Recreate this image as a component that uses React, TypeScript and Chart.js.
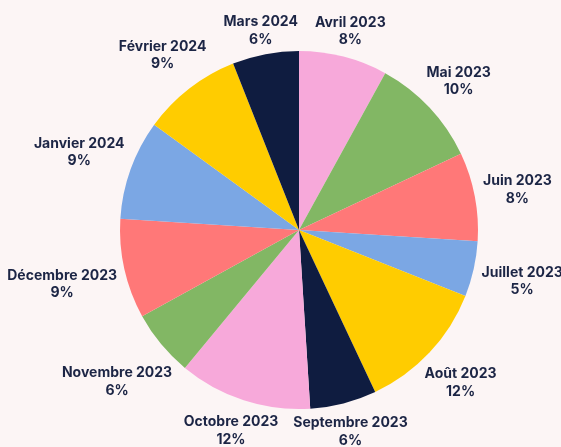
import React, { useEffect, useRef } from "react";
import { Chart, registerables } from "chart.js";

Chart.register(...registerables);

const months = [
  "Avril 2023",
  "Mai 2023",
  "Juin 2023",
  "Juillet 2023",
  "Août 2023",
  "Septembre 2023",
  "Octobre 2023",
  "Novembre 2023",
  "Décembre 2023",
  "Janvier 2024",
  "Février 2024",
  "Mars 2024",
];
const shares = [8, 10, 8, 5, 12, 6, 12, 6, 9, 9, 9, 6];
const sliceColors = [
  "#F7A9DA",
  "#82B764",
  "#FF7878",
  "#7BA7E4",
  "#FFCC00",
  "#0F1C40",
  "#F7A9DA",
  "#82B764",
  "#FF7878",
  "#7BA7E4",
  "#FFCC00",
  "#0F1C40",
];

const BG = "#FCF5F5";
const TEXT = "#1C2545";
const FONT = "bold 14px Inter, 'DejaVu Sans', sans-serif";
const LINE = 17.5;
const BOX_H = 29;
const GAP = 7;
const SIDE_GAP = 15;

type Box = { cx: number; cy: number; w: number; h: number; ux: number; lines: string[] };

const outsideLabels = {
  id: "outsideLabels",
  afterDatasetsDraw(chart: any) {
    const ctx: CanvasRenderingContext2D = chart.ctx;
    const meta = chart.getDatasetMeta(0);
    ctx.save();
    ctx.font = FONT;
    const boxes: Box[] = [];
    meta.data.forEach((arc: any, i: number) => {
      const { x, y, startAngle, endAngle, outerRadius } = arc.getProps(
        ["x", "y", "startAngle", "endAngle", "outerRadius"],
        true
      );
      const mid = (startAngle + endAngle) / 2;
      const ux = Math.cos(mid);
      const uy = Math.sin(mid);
      const lines = [months[i], shares[i] + "%"];
      const w = Math.max(...lines.map((l) => ctx.measureText(l).width));
      const h = BOX_H;
      const target = outerRadius + GAP;
      const nearest = (d: number) => {
        const bx = ux * d;
        const by = uy * d;
        const nx = Math.min(Math.max(0, bx - w / 2), bx + w / 2);
        const ny = Math.min(Math.max(0, by - h / 2), by + h / 2);
        return Math.hypot(nx, ny);
      };
      let lo = outerRadius;
      let hi = outerRadius + 300;
      for (let k = 0; k < 60; k++) {
        const m = (lo + hi) / 2;
        if (nearest(m) < target) lo = m;
        else hi = m;
      }
      const d = hi;
      const box: Box = { cx: x + ux * d, cy: y + uy * d, w, h, ux, lines };
      // resolve overlaps with labels already placed
      for (let pass = 0; pass < 5; pass++) {
        let moved = false;
        for (const o of boxes) {
          const overlapX =
            Math.abs(box.cx - o.cx) < (box.w + o.w) / 2 + SIDE_GAP - 0.01;
          const overlapY = Math.abs(box.cy - o.cy) < (box.h + o.h) / 2 + 4;
          if (overlapX && overlapY) {
            if (box.ux < 0) box.cx = o.cx - o.w / 2 - SIDE_GAP - box.w / 2;
            else box.cx = o.cx + o.w / 2 + SIDE_GAP + box.w / 2;
            moved = true;
          }
        }
        if (!moved) break;
      }
      boxes.push(box);
    });
    ctx.fillStyle = TEXT;
    ctx.textAlign = "center";
    ctx.textBaseline = "alphabetic";
    boxes.forEach((b) => {
      const b1 = b.cy - 3.25;
      ctx.fillText(b.lines[0], b.cx, b1);
      ctx.fillText(b.lines[1], b.cx, b1 + LINE);
    });
    ctx.restore();
  },
};

export default function App() {
  const ref = useRef<HTMLCanvasElement | null>(null);
  useEffect(() => {
    document.body.style.margin = "0";
    document.body.style.background = BG;
    const canvas = ref.current;
    if (!canvas) return;
    const chart = new Chart(canvas, {
      type: "pie",
      data: {
        labels: months,
        datasets: [
          {
            data: shares,
            backgroundColor: sliceColors,
            borderWidth: 0,
          },
        ],
      },
      options: {
        responsive: false,
        animation: false,
        layout: { padding: { top: 51, bottom: 38, left: 120, right: 83 } },
        plugins: {
          legend: { display: false },
          tooltip: { enabled: false },
        },
      },
      plugins: [outsideLabels],
    });
    return () => chart.destroy();
  }, []);
  return (
    <div style={{ width: 561, height: 447, background: BG }}>
      <canvas ref={ref} width={561} height={447} style={{ display: "block" }} />
    </div>
  );
}
